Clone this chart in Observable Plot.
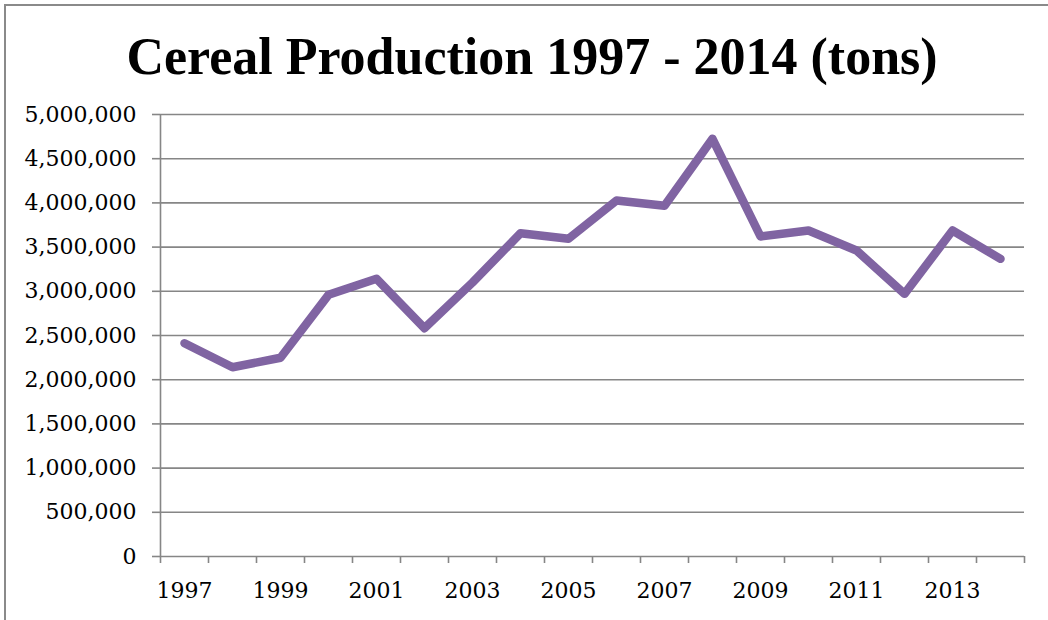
<!DOCTYPE html>
<html>
<head>
<meta charset="utf-8">
<script src="https://cdn.jsdelivr.net/npm/d3@7"></script>
<script src="https://cdn.jsdelivr.net/npm/@observablehq/plot@0.6"></script>
<style>
  html, body { margin: 0; padding: 0; background: #fff; width: 1048px; height: 620px; overflow: hidden; }
  #wrap { position: relative; width: 1048px; height: 620px; }
  #frame { position: absolute; left: 4px; top: 4px; width: 1100px; height: 700px;
           border-left: 2px solid #8a8a8a; border-top: 2px solid #8a8a8a; }
  #title { position: absolute; left: 4px; top: 31px; width: 1056px; text-align: center;
           font-family: "Liberation Serif", serif; font-weight: bold; font-size: 52px; line-height: 52px; color: #000; }
  #chart { position: absolute; left: 0; top: 100px; }
</style>
</head>
<body>
<div id="wrap">
  <div id="frame"></div>
  <div id="title">Cereal Production 1997 - 2014 (tons)</div>
  <div id="chart"></div>
</div>
<script>
const years = [1997, 1998, 1999, 2000, 2001, 2002, 2003, 2004, 2005, 2006, 2007, 2008, 2009, 2010, 2011, 2012, 2013, 2014];
const production = [2413000, 2141000, 2248000, 2960000, 3141000, 2583000, 3100000, 3657000, 3594000, 4027000, 3967000, 4725000, 3620000, 3688000, 3462000, 2971000, 3688000, 3367000];
const xLabelYears = [1997, 1999, 2001, 2003, 2005, 2007, 2009, 2011, 2013];
const yTicks = [0, 500000, 1000000, 1500000, 2000000, 2500000, 3000000, 3500000, 4000000, 4500000, 5000000];

const data = years.map((year, i) => ({year, value: production[i]}));
// category boundaries for x tick marks (between the year bands)
const bounds = years.map(y => y - 0.5).concat([years[years.length - 1] + 0.5]);

const grey = "#868686";

const chart = Plot.plot({
  width: 1048,
  height: 506,
  marginLeft: 160,
  marginRight: 24,
  marginTop: 14,
  marginBottom: 50,
  x: {domain: [bounds[0], bounds[bounds.length - 1]], label: null},
  y: {domain: [0, 5000000], label: null},
  style: {fontFamily: "'DejaVu Serif', serif", fontSize: "22px", color: "#000", background: "transparent", overflow: "visible"},
  marks: [
    Plot.gridY({ticks: yTicks, stroke: grey, strokeOpacity: 1, strokeWidth: 1.6}),
    Plot.ruleX([bounds[0]], {stroke: grey, strokeWidth: 1.6}),
    Plot.axisY({ticks: yTicks, label: null, tickSize: 8, tickPadding: 16, tickFormat: d3.format(","), stroke: grey, strokeWidth: 1.6, fill: "#000", fontSize: 22}),
    Plot.axisX({ticks: bounds, label: null, tickSize: 7, tickFormat: () => "", stroke: grey, strokeWidth: 1.6}),
    Plot.axisX({ticks: xLabelYears, label: null, tickSize: 0, tickPadding: 26, tickFormat: d3.format("d"), fill: "#000", fontSize: 22}),
    Plot.line(data, {x: "year", y: "value", stroke: "#8064A2", strokeWidth: 8.5, strokeLinejoin: "round", strokeLinecap: "round"})
  ]
});
document.getElementById("chart").appendChild(chart);
</script>
</body>
</html>
